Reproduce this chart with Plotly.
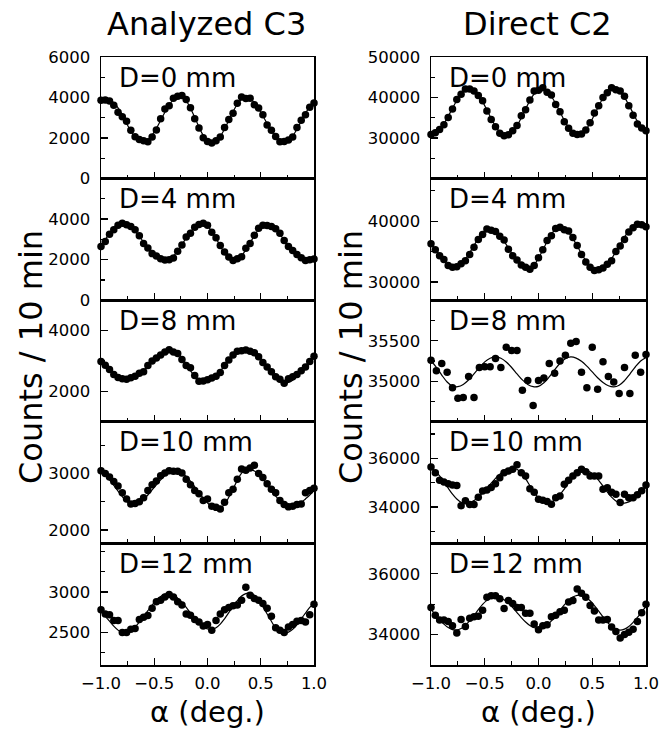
import plotly.graph_objects as go

# ---------------- data ----------------
ALPHA_51 = [-1.00, -0.96, -0.92, -0.88, -0.84, -0.80, -0.76, -0.72, -0.68, -0.64,
            -0.60, -0.56, -0.52, -0.48, -0.44, -0.40, -0.36, -0.32, -0.28, -0.24,
            -0.20, -0.16, -0.12, -0.08, -0.04, 0.00, 0.04, 0.08, 0.12, 0.16,
            0.20, 0.24, 0.28, 0.32, 0.36, 0.40, 0.44, 0.48, 0.52, 0.56,
            0.60, 0.64, 0.68, 0.72, 0.76, 0.80, 0.84, 0.88, 0.92, 0.96, 1.00]
ALPHA_41 = [-1.00, -0.95, -0.90, -0.85, -0.80, -0.75, -0.70, -0.65, -0.60, -0.55,
            -0.50, -0.45, -0.40, -0.35, -0.30, -0.25, -0.20, -0.15, -0.10, -0.05,
            0.00, 0.05, 0.10, 0.15, 0.20, 0.25, 0.30, 0.35, 0.40, 0.45,
            0.50, 0.55, 0.60, 0.65, 0.70, 0.75, 0.80, 0.85, 0.90, 0.95, 1.00]

# Analyzed C3
C3_D0_DATA = [3870, 3880, 3830, 3620, 3280, 3050, 2830, 2380, 2060, 1930,
              1870, 1820, 2050, 2400, 2950, 3430, 3600, 3960, 4060, 4100,
              3900, 3500, 2950, 2500, 2020, 1830, 1760, 1870, 2050, 2520,
              2920, 3230, 3720, 4030, 3950, 3960, 3640, 3480, 3150, 2650,
              2380, 2080, 1820, 1830, 1900, 2050, 2520, 2880, 3150, 3520, 3730]
C3_D0_FIT = [3840, 3860, 3870, 3750, 3490, 3140, 2730, 2345, 2030, 1845,
             1805, 1910, 2150, 2480, 2875, 3275, 3625, 3895, 4030, 4025,
             3830, 3475, 3020, 2545, 2130, 1850, 1750, 1835, 2080, 2445,
             2875, 3305, 3670, 3915, 4000, 3935, 3745, 3450, 3090, 2710,
             2350, 2055, 1865, 1800, 1880, 2100, 2435, 2825, 3215, 3550, 3770]

C3_D4_DATA = [2650, 2900, 3250, 3480, 3700, 3800, 3720, 3640, 3470, 3180,
              2800, 2580, 2300, 2180, 2050, 1980, 2000, 2080, 2420, 2720,
              3120, 3300, 3600, 3740, 3800, 3700, 3350, 3080, 2700, 2380,
              2130, 1960, 2040, 2150, 2560, 2800, 3200, 3550, 3700, 3690,
              3640, 3520, 3300, 2950, 2650, 2450, 2250, 2100, 1960, 2000, 2030]
C3_D4_FIT = [2665, 2985, 3300, 3560, 3720, 3780, 3735, 3605, 3405, 3150,
             2865, 2580, 2325, 2125, 1995, 1950, 2010, 2175, 2430, 2745,
             3070, 3370, 3605, 3745, 3775, 3655, 3405, 3055, 2675, 2325,
             2075, 1955, 1995, 2175, 2500, 2835, 3185, 3490, 3680, 3715,
             3645, 3490, 3240, 2980, 2690, 2405, 2190, 2025, 1955, 1985, 2125]

C3_D8_DATA = [2980, 2860, 2720, 2560, 2460, 2420, 2400, 2450, 2500, 2600,
              2650, 2850, 3000, 3100, 3200, 3300, 3370, 3300, 3250, 3050,
              2850, 2780, 2520, 2330, 2340, 2380, 2440, 2500, 2620, 2850,
              3030, 3200, 3320, 3340, 3360, 3320, 3270, 3140, 2950, 2800,
              2650, 2480, 2400, 2270, 2420, 2480, 2560, 2680, 2800, 2980, 3160]
C3_D8_FIT = [2970, 2835, 2705, 2600, 2500, 2440, 2410, 2420, 2475, 2570,
             2690, 2830, 2975, 3115, 3230, 3310, 3355, 3350, 3260, 3105,
             2900, 2685, 2500, 2375, 2330, 2355, 2425, 2540, 2680, 2840,
             3000, 3140, 3255, 3325, 3350, 3320, 3230, 3095, 2930, 2745,
             2575, 2425, 2330, 2280, 2295, 2370, 2495, 2655, 2840, 3015, 3170]

C3_D10_DATA = [3050, 3000, 2940, 2860, 2780, 2660, 2550, 2460, 2470, 2500,
               2570, 2700, 2800, 2870, 2960, 3010, 3050, 3040, 3040, 3010,
               2900, 2800, 2700, 2640, 2520, 2550, 2420, 2400, 2370, 2490,
               2660, 2720, 2900, 3080, 3060, 3100, 3150, 3000, 2930, 2820,
               2720, 2660, 2520, 2450, 2410, 2420, 2450, 2460, 2660, 2700, 2740]
C3_D10_FIT = [3030, 2970, 2890, 2790, 2690, 2590, 2510, 2465, 2465, 2490,
              2545, 2620, 2710, 2800, 2890, 2965, 3020, 3045, 3045, 3015,
              2950, 2865, 2765, 2665, 2565, 2480, 2415, 2385, 2390, 2455,
              2580, 2730, 2880, 3010, 3070, 3075, 3045, 2985, 2900, 2800,
              2700, 2600, 2515, 2455, 2425, 2425, 2445, 2485, 2550, 2620, 2705]

C3_D12_DATA = [2780, 2730, 2720, 2650, 2650, 2500, 2500, 2540, 2550, 2660,
               2690, 2710, 2800, 2880, 2900, 2940, 2970, 2940, 2880, 2840,
               2730, 2715, 2660, 2630, 2580, 2600, 2530, 2650, 2730, 2780,
               2810, 2830, 2840, 2900, 3060, 2960, 2920, 2900, 2860, 2800,
               2700, 2560, 2530, 2500, 2570, 2600, 2640, 2650, 2630, 2720, 2850]
C3_D12_FIT = [2760, 2700, 2640, 2580, 2530, 2495, 2495, 2525, 2570, 2630,
              2700, 2770, 2840, 2900, 2945, 2975, 2980, 2965, 2925, 2875,
              2810, 2745, 2675, 2615, 2570, 2545, 2540, 2560, 2605, 2670,
              2745, 2825, 2895, 2950, 2980, 2990, 2960, 2905, 2820, 2730,
              2640, 2555, 2510, 2490, 2505, 2540, 2595, 2670, 2740, 2810, 2860]

# Direct C2
C2_D0_DATA = [30900, 31300, 32100, 33300, 35100, 37200, 39500, 40800, 42100, 42100,
              41600, 40500, 39200, 36700, 34600, 32800, 31200, 30600, 30800, 31800,
              33100, 35500, 37000, 39400, 41600, 41800, 42400, 41300, 40600, 38300,
              36500, 34000, 32400, 31200, 30900, 31000, 32000, 33800, 36200, 38000,
              40000, 41200, 42400, 41900, 41600, 40300, 38000, 35600, 33500, 32500, 31800]
C2_D0_FIT = [31000, 31200, 32060, 33540, 35370, 37350, 39270, 40860, 41840, 42200,
             41800, 40710, 39000, 36930, 34810, 32920, 31470, 30700, 30700, 31510,
             33020, 34990, 37170, 39230, 40900, 41870, 42080, 41500, 40260, 38510,
             36450, 34390, 32640, 31470, 30820, 31030, 32020, 33680, 35750, 37910,
             39890, 41380, 42200, 42200, 41460, 40040, 38200, 36130, 34120, 32490, 31380]

C2_D4_DATA = [36300, 35300, 34300, 33700, 32700, 32400, 32500, 33000, 33500, 34500,
              35700, 37000, 37800, 38700, 38500, 38300, 37500, 36900, 35400, 34300,
              33600, 32800, 32400, 32100, 32700, 34000, 35300, 36800, 37600, 38800,
              39000, 38600, 38400, 37300, 36000, 34500, 33300, 32400, 31900, 32000,
              32300, 32900, 33500, 35000, 35900, 37000, 38200, 38900, 39500, 39400, 39100]
C2_D4_FIT = [36300, 35400, 34400, 33500, 32800, 32450, 32460, 32900, 33720, 34810,
             36000, 37130, 38040, 38570, 38690, 38380, 37690, 36730, 35590, 34440,
             33420, 32650, 32250, 32270, 32850, 33900, 35250, 36650, 37870, 38710,
             39000, 38770, 38130, 37140, 35930, 34660, 33490, 32570, 32030, 31910,
             32210, 32860, 33830, 34990, 36210, 37380, 38410, 39160, 39550, 39550, 39300]

C2_D8_DATA = [35260, 35130, 35220, 35110, 34920, 34790, 34800, 35060, 34800, 35170,
              35180, 35180, 35280, 35170, 35420, 35380, 35380, 34890, 35010, 34700,
              35010, 35040, 35220, 35100, 35250, 35320, 35470, 35490, 35110, 34920,
              35420, 34900, 35240, 35060, 34990, 34850, 35170, 34850, 35320, 35110, 35330]
C2_D8_FIT = [35253, 35172, 35077, 34991, 34939, 34933, 34961, 35018, 35091, 35169,
             35239, 35283, 35300, 35283, 35237, 35170, 35091, 35017, 34961, 34933,
             34937, 34981, 35054, 35141, 35222, 35279, 35300, 35286, 35246, 35186,
             35115, 35044, 34984, 34944, 34930, 34951, 35008, 35089, 35176, 35250, 35293]

C2_D10_DATA = [35640, 35400, 35100, 35020, 34950, 34900, 34880, 34050, 34250, 34100,
               34100, 34400, 34650, 34700, 34800, 34950, 35200, 35400, 35480, 35550,
               35730, 35400, 35270, 34750, 34600, 34320, 34270, 34220, 34110, 34380,
               34450, 34930, 35100, 35270, 35410, 35550, 35450, 35270, 35270, 35270,
               34730, 34790, 34600, 34520, 34180, 34520, 34380, 34380, 34500, 34660, 34900]
C2_D10_FIT = [35605, 35475, 35275, 35030, 34770, 34525, 34325, 34195, 34150, 34180,
              34265, 34400, 34575, 34775, 34980, 35175, 35350, 35485, 35570, 35600,
              35545, 35390, 35150, 34875, 34600, 34360, 34205, 34150, 34195, 34315,
              34505, 34735, 34975, 35200, 35370, 35475, 35495, 35435, 35290, 35090,
              34855, 34615, 34405, 34245, 34160, 34157, 34208, 34308, 34447, 34616, 34800]

C2_D12_DATA = [34890, 34640, 34480, 34480, 34430, 34290, 34050, 34500, 34270, 34540,
               34590, 34600, 34800, 35230, 35280, 35280, 35180, 34860, 35120, 35020,
               34890, 34890, 34700, 34700, 34350, 34160, 34290, 34320, 34590, 34640,
               34750, 34800, 35070, 35120, 35500, 35360, 35230, 34960, 34780, 34480,
               34480, 34500, 34250, 34100, 33890, 34000, 34075, 34180, 34430, 34720, 35000]
C2_D12_FIT = [34830, 34655, 34490, 34345, 34230, 34165, 34150, 34200, 34300, 34455,
              34630, 34820, 34995, 35125, 35220, 35250, 35225, 35150, 35035, 34890,
              34725, 34560, 34415, 34300, 34225, 34200, 34230, 34315, 34450, 34615,
              34795, 34975, 35125, 35235, 35290, 35290, 35230, 35115, 34955, 34770,
              34585, 34415, 34270, 34180, 34150, 34180, 34265, 34400, 34565, 34745, 34925]

PANEL_LABELS = ["D=0 mm", "D=4 mm", "D=8 mm", "D=10 mm", "D=12 mm"]
COLUMN_TITLES = ["Analyzed C3", "Direct C2"]
Y_TITLE = "Counts / 10 min"
X_TITLE = "α (deg.)"

C3_TICKS = [[0, 2000, 4000, 6000], [0, 2000, 4000], [2000, 4000], [2000, 3000], [2500, 3000]]
C2_TICKS = [[30000, 40000, 50000], [30000, 40000], [35000, 35500], [34000, 36000], [34000, 36000]]

# ---------------- layout / styling ----------------
W, H = 671, 731
FONT = "DejaVu Sans"
COLS_PX = [(101, 314), (431, 646)]
ROWS_PX = [57, 178.6, 300.2, 421.8, 543.4, 665]

left_panels = [
    (ALPHA_51, C3_D0_DATA, ALPHA_51, C3_D0_FIT, [0, 6000], C3_TICKS[0], 1000),
    (ALPHA_51, C3_D4_DATA, ALPHA_51, C3_D4_FIT, [0, 6000], C3_TICKS[1], 1000),
    (ALPHA_51, C3_D8_DATA, ALPHA_51, C3_D8_FIT, [1000, 5000], C3_TICKS[2], 1000),
    (ALPHA_51, C3_D10_DATA, ALPHA_51, C3_D10_FIT, [1760, 3920], C3_TICKS[3], 500),
    (ALPHA_51, C3_D12_DATA, ALPHA_51, C3_D12_FIT, [2100, 3600], C3_TICKS[4], 250),
]
right_panels = [
    (ALPHA_51, C2_D0_DATA, ALPHA_51, C2_D0_FIT, [20000, 50000], C2_TICKS[0], 5000),
    (ALPHA_51, C2_D4_DATA, ALPHA_51, C2_D4_FIT, [27000, 47000], C2_TICKS[1], 5000),
    (ALPHA_41, C2_D8_DATA, ALPHA_41, C2_D8_FIT, [34500, 36000], C2_TICKS[2], 250),
    (ALPHA_51, C2_D10_DATA, ALPHA_51, C2_D10_FIT, [32500, 37500], C2_TICKS[3], 1000),
    (ALPHA_51, C2_D12_DATA, ALPHA_51, C2_D12_FIT, [33000, 37000], C2_TICKS[4], 1000),
]

fig = go.Figure()
layout = dict(
    width=W, height=H, autosize=False,
    margin=dict(l=0, r=0, t=0, b=0, pad=0, autoexpand=False),
    paper_bgcolor="white", plot_bgcolor="white",
    showlegend=False, hovermode=False,
    font=dict(family=FONT, color="black", size=16.5),
)
annotations = []

n = 0
for c, panels in enumerate([left_panels, right_panels]):
    x0, x1 = COLS_PX[c]
    for r, (xd, yd, xf, yf, yr, tv, mdt) in enumerate(panels):
        n += 1
        sfx = "" if n == 1 else str(n)
        top, bot = ROWS_PX[r], ROWS_PX[r + 1]
        ydom = [1 - bot / H, 1 - top / H]
        xdom = [x0 / W, x1 / W]
        fig.add_trace(go.Scatter(x=xf, y=yf, mode="lines", line=dict(color="black", width=1.2, shape="spline"),
                                 xaxis="x" + sfx, yaxis="y" + sfx, hoverinfo="skip"))
        fig.add_trace(go.Scatter(x=xd, y=yd, mode="markers", marker=dict(color="black", size=7.5),
                                 cliponaxis=False, xaxis="x" + sfx, yaxis="y" + sfx))
        layout["xaxis" + sfx] = dict(
            domain=xdom, range=[-1, 1], anchor="y" + sfx, automargin=False,
            showline=True, linecolor="black", linewidth=1.5, mirror=True,
            ticks="inside", ticklen=7, tickwidth=1.3, tickcolor="black",
            tickmode="linear", tick0=0, dtick=0.5, tickformat=".1f",
            showticklabels=(r == 4), ticklabelstandoff=3,
            tickfont=dict(family=FONT, size=16.5, color="black"),
            minor=dict(dtick=0.25, tick0=0, ticks="inside", ticklen=4, tickwidth=1.2, tickcolor="black"),
            showgrid=False, zeroline=False, fixedrange=True,
        )
        layout["yaxis" + sfx] = dict(
            domain=ydom, range=yr, anchor="x" + sfx, automargin=False,
            showline=True, linecolor="black", linewidth=1.5, mirror=True,
            ticks="inside", ticklen=7, tickwidth=1.3, tickcolor="black",
            tickmode="array", tickvals=tv, ticktext=[str(v) for v in tv],
            ticklabelstandoff=6,
            tickfont=dict(family=FONT, size=16.5, color="black"),
            minor=dict(dtick=mdt, tick0=0, ticks="inside", ticklen=4, tickwidth=1.2, tickcolor="black"),
            showgrid=False, zeroline=False, fixedrange=True,
        )
        annotations.append(dict(
            text=PANEL_LABELS[r], xref="x" + sfx + " domain", yref="y" + sfx + " domain",
            x=0.075, y=0.83, xanchor="left", yanchor="middle", showarrow=False,
            font=dict(family=FONT, size=26, color="black"),
        ))

TITLE_CX = [206.5, 537]
for c, title in enumerate(COLUMN_TITLES):
    x0, x1 = COLS_PX[c]
    cx = (x0 + x1) / 2
    annotations.append(dict(text=title, xref="paper", yref="paper", x=TITLE_CX[c] / W, y=1 - 24 / H,
                            xanchor="center", yanchor="middle", showarrow=False,
                            font=dict(family=FONT, size=32, color="black")))
    annotations.append(dict(text=X_TITLE, xref="paper", yref="paper", x=cx / W, y=1 - 712 / H,
                            xanchor="center", yanchor="middle", showarrow=False,
                            font=dict(family=FONT, size=29, color="black")))
for xp in [31, 351]:
    annotations.append(dict(text=Y_TITLE, xref="paper", yref="paper", x=xp / W, y=1 - 357 / H,
                            xanchor="center", yanchor="middle", showarrow=False, textangle=-90,
                            font=dict(family=FONT, size=32, color="black")))

layout["annotations"] = annotations
fig.update_layout(**layout)
fig.write_html(
    "out.html",
    config={"displayModeBar": False, "staticPlot": True},
    post_script="document.body.style.margin='0';document.body.style.padding='0';"
                "document.body.style.overflow='hidden';",
)
